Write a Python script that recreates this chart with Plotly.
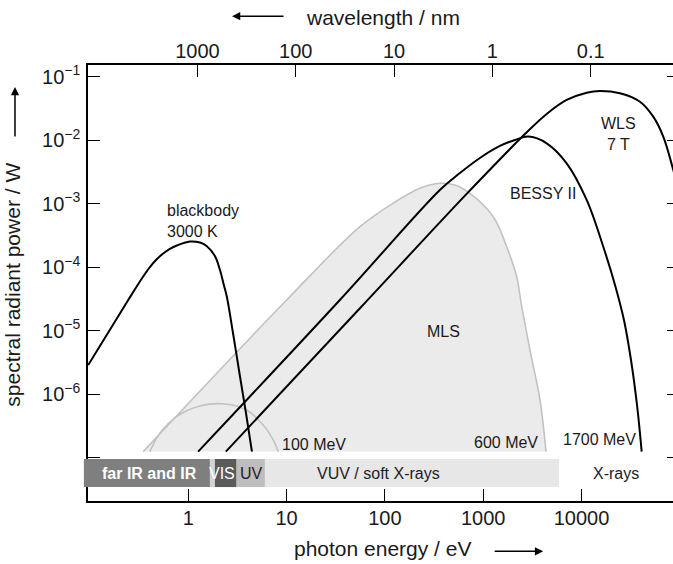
import numpy as np
import plotly.graph_objects as go

HC_EV_NM = 1239.84  # photon energy (eV) x wavelength (nm)

# Blackbody radiator, 3000 K
bb_energy = [0.096, 0.245, 0.345, 0.407, 0.480, 0.556, 0.65, 0.765, 1.04, 1.31,
             1.535, 1.865, 2.10, 2.30, 2.47, 2.86, 3.35, 3.86, 4.44]
bb_power = [2.9e-6, 3.06e-5, 7.05e-5, 1.01e-4, 1.35e-4, 1.65e-4, 1.95e-4, 2.21e-4,
            2.55e-4, 2.46e-4, 2.17e-4, 1.51e-4, 9.08e-5, 5.27e-5, 3.41e-5,
            8.93e-6, 1.95e-6, 5.11e-7, 1.26e-7]

# BESSY II dipole, 1700 MeV
bessy_energy = [1.26, 34.8, 362, 579, 925, 1479, 2100, 2870, 4416, 7050, 11270,
                16630, 21880, 26990, 31820, 36640, 40860]
bessy_power = [1.26e-7, 3.06e-5, 1.65e-3, 3.05e-3, 5.26e-3, 8.13e-3, 1.01e-2,
               1.14e-2, 8.95e-3, 4.34e-3, 1.15e-3, 2.11e-4, 5.27e-5, 1.48e-5,
               3.48e-6, 6.82e-7, 1.26e-7]

# Wavelength shifter, 7 T
wls_energy = [2.41, 55.7, 678, 2655, 4416, 7050, 11270, 15380, 24600, 39260,
              53610, 67780, 85700, 112700]
wls_power = [1.26e-7, 2.27e-5, 1.43e-3, 1.25e-2, 2.59e-2, 4.30e-2, 5.6e-2,
             5.96e-2, 5.48e-2, 4.04e-2, 2.35e-2, 1.14e-2, 3.4e-3, 6.6e-4]

# Metrology Light Source, 600 MeV
mls_energy = [0.348, 10.0, 55.7, 121, 227, 362, 515, 733, 1265, 1731, 2188,
              2446, 2985, 3776, 4345]
mls_power = [1.26e-7, 3.06e-5, 4.36e-4, 1.02e-3, 1.75e-3, 2.10e-3, 1.98e-3,
             1.46e-3, 6.26e-4, 2.11e-4, 7.13e-5, 2.56e-5, 5.0e-6, 8.2e-7, 1.26e-7]

# Metrology Light Source, 100 MeV
mls100_energy = [0.407, 0.514, 0.760, 1.31, 2.36, 3.92, 5.78, 7.31, 8.22]
mls100_power = [1.26e-7, 2.45e-7, 4.47e-7, 6.58e-7, 7.08e-7, 5.69e-7, 3.30e-7,
                1.92e-7, 1.26e-7]

# Spectral ranges along the energy axis (eV)
band_edges = [0.0867, 1.66, 1.865, 3.10, 6.02, 5890]
band_colors = ["#7f7f7f", "#d4d4d4", "#5b5b5b", "#bdbdbd", "#e7e7e7"]
band_labels = ["far IR and IR", "VIS", "UV", "VUV / soft X-rays", "X-rays"]
band_label_energy = [0.407, 2.20, 4.43, 85.9, 22400]

energy_ticks = [1, 10, 100, 1000, 10000]
energy_ticktext = ["1", "10", "100", "1000", "10000"]
wavelength_ticks = [1000, 100, 10, 1, 0.1]
wavelength_ticktext = ["1000", "100", "10", "1", "0.1"]
power_ticks = [1e-1, 1e-2, 1e-3, 1e-4, 1e-5, 1e-6, 1e-7]
power_ticktext = ["10<sup>−1</sup>", "10<sup>−2</sup>", "10<sup>−3</sup>",
                  "10<sup>−4</sup>", "10<sup>−5</sup>", "10<sup>−6</sup>", ""]

X_RANGE = [-1.02, 4.93]     # log10(eV)
Y_RANGE = [-7.677, -0.816]  # log10(W)

FONT = "Liberation Sans, Arial, Helvetica, sans-serif"
INK = "#1a1a1a"


def xpaper(e):
    return (np.log10(e) - X_RANGE[0]) / (X_RANGE[1] - X_RANGE[0])


fig = go.Figure()

# MLS 600 MeV: shaded area and outline
fig.add_trace(go.Scatter(x=mls_energy, y=mls_power, mode="lines", fill="toself",
                         fillcolor="#ebebeb", line=dict(width=0, shape="spline"),
                         hoverinfo="skip", showlegend=False))
fig.add_trace(go.Scatter(x=mls_energy, y=mls_power, mode="lines",
                         line=dict(color="#c2c2c2", width=1.6, shape="spline"),
                         hoverinfo="skip", showlegend=False))
fig.add_trace(go.Scatter(x=mls100_energy, y=mls100_power, mode="lines",
                         line=dict(color="#c2c2c2", width=1.6, shape="spline"),
                         hoverinfo="skip", showlegend=False))

for ex, pw in [(bb_energy, bb_power), (bessy_energy, bessy_power),
               (wls_energy, wls_power)]:
    fig.add_trace(go.Scatter(x=ex, y=pw, mode="lines",
                             line=dict(color="black", width=2, shape="spline"),
                             hoverinfo="skip", showlegend=False))

# carriers for the top (wavelength) and right axes
fig.add_trace(go.Scatter(x=[1], y=[1e-3], xaxis="x2", yaxis="y2", mode="markers",
                         marker=dict(opacity=0), hoverinfo="skip", showlegend=False))

# spectral-range bar
shapes = []
for i, col in enumerate(band_colors):
    shapes.append(dict(type="rect", xref="paper", yref="paper",
                       x0=xpaper(band_edges[i]), x1=xpaper(band_edges[i + 1]),
                       y0=0.032, y1=0.0963, fillcolor=col, line=dict(width=0),
                       layer="above"))

annotations = []
band_font_colors = ["white", "white", "#222222", "#222222", "#222222"]
for lbl, e, c in zip(band_labels, band_label_energy, band_font_colors):
    annotations.append(dict(x=xpaper(e), y=0.0642, xref="paper", yref="paper",
                            xanchor="center", yanchor="middle",
                            text=lbl, showarrow=False,
                            font=dict(family=FONT, size=16, color=c,
                                      weight="bold" if lbl == "far IR and IR" else "normal")))

# curve labels (log10 coordinates)
curve_labels = [
    ("blackbody<br>3000 K", -0.2375, -3.263, "left"),
    ("WLS<br>7 T", 4.372, -1.894, "center"),
    ("BESSY II", 3.607, -2.835, "center"),
    ("MLS", 2.595, -5.002, "center"),
    ("100 MeV", 1.275, -6.780, "center"),
    ("600 MeV", 3.231, -6.759, "center"),
    ("1700 MeV", 4.187, -6.706, "center"),
]
for txt, lx, ly, anc in curve_labels:
    annotations.append(dict(x=lx, y=ly, xref="x", yref="y", text=txt,
                            showarrow=False, xanchor=anc, yanchor="middle",
                            align=anc, font=dict(family=FONT, size=16, color=INK)))

# axis titles with direction arrows
annotations += [
    dict(x=0.5034, y=-0.108, xref="paper", yref="paper", text="photon energy / eV",
         xanchor="center", yanchor="middle", showarrow=False,
         font=dict(family=FONT, size=21, color=INK)),
    dict(x=0.778, y=-0.1155, xref="paper", yref="paper", text="", showarrow=True,
         ax=-50, ay=0, arrowhead=2, arrowsize=1.1, arrowwidth=1.5, arrowcolor="black"),
    dict(x=0.504, y=1.110, xref="paper", yref="paper", text="wavelength / nm",
         xanchor="center", yanchor="middle", showarrow=False,
         font=dict(family=FONT, size=21, color=INK)),
    dict(x=0.2462, y=1.112, xref="paper", yref="paper", text="", showarrow=True,
         ax=53, ay=0, arrowhead=2, arrowsize=1.1, arrowwidth=1.5, arrowcolor="black"),
    dict(x=-0.129, y=0.495, xref="paper", yref="paper",
         text="spectral radiant power / W", textangle=-90, showarrow=False,
         xanchor="center", yanchor="middle",
         font=dict(family=FONT, size=21, color=INK)),
    dict(x=-0.1248, y=0.9495, xref="paper", yref="paper", text="", showarrow=True,
         ax=0, ay=51, arrowhead=2, arrowsize=1.1, arrowwidth=1.5, arrowcolor="black"),
]

axis_common = dict(type="log", showgrid=False, zeroline=False, ticks="inside",
                   tickcolor="black", tickwidth=1.3, linecolor="black",
                   linewidth=1.5, tickfont=dict(family=FONT, size=20, color=INK))

fig.update_layout(
    width=673, height=564,
    margin=dict(l=88, r=0, t=65, b=63),
    plot_bgcolor="white", paper_bgcolor="white",
    showlegend=False,
    xaxis=dict(**axis_common, range=X_RANGE, showline=True, ticklen=12,
               tickmode="array", tickvals=energy_ticks, ticktext=energy_ticktext,
               ticklabelstandoff=-2),
    xaxis2=dict(**axis_common, range=X_RANGE, overlaying="x", side="top",
                anchor="y", showline=True, ticklen=12, tickmode="array",
                tickvals=[HC_EV_NM / w for w in wavelength_ticks],
                ticktext=wavelength_ticktext, ticklabelstandoff=-3),
    yaxis=dict(**axis_common, range=Y_RANGE, showline=True, ticklen=12,
               tickmode="array", tickvals=power_ticks, ticktext=power_ticktext,
               ticklabelstandoff=2),
    yaxis2=dict(**axis_common, range=Y_RANGE, overlaying="y", side="right",
                anchor="x", showline=False, ticklen=6, tickmode="array",
                tickvals=power_ticks, showticklabels=False),
    shapes=shapes,
    annotations=annotations,
)
fig.update_yaxes(tickfont_size=21, selector=dict(side="left"))

fig.write_html("out.html")
